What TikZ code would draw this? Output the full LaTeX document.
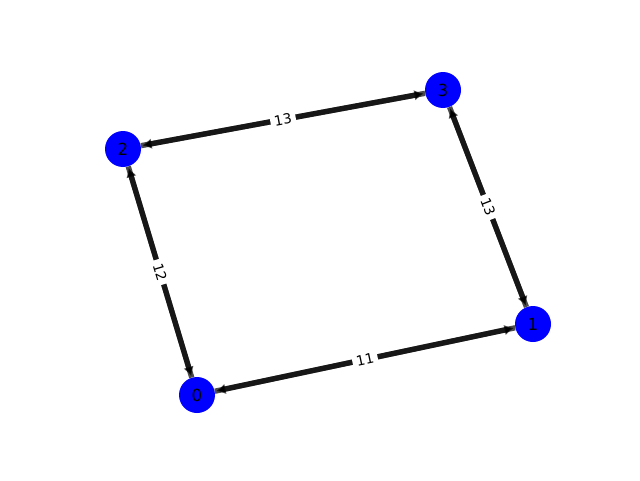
\documentclass[tikz,border=0pt]{standalone}
\usepackage{fontspec}
\setmainfont{DejaVu Sans}
\usetikzlibrary{arrows.meta}
\definecolor{nodeblue}{RGB}{0,0,255}
\tikzset{
  vert/.style={circle, fill=nodeblue, minimum size=27pt, inner sep=0pt, font=\fontsize{12.5}{14}\selectfont, text=black},
  edge/.style={line width=4pt, draw=black, draw opacity=0.7, -{Latex[length=7pt,width=8pt]}, shorten >=1pt},
  wlabel/.style={fill=white, opacity=1, text opacity=1, fill opacity=1, inner xsep=3pt, inner ysep=2pt, font=\fontsize{10.4}{12}\selectfont, sloped, midway}
}
\begin{document}
\begin{tikzpicture}[x=0.75pt, y=0.75pt]
\useasboundingbox (0,0) rectangle (640,480);
\node[vert] (n0) at (197,85) {0};
\node[vert] (n1) at (533,156) {1};
\node[vert] (n2) at (123,331) {2};
\node[vert] (n3) at (443,390) {3};
\draw[edge] (n2) -- (n3);
\draw[edge] (n3) -- (n2) node[wlabel] {13};
\draw[edge] (n0) -- (n1);
\draw[edge] (n1) -- (n0) node[wlabel] {11};
\draw[edge] (n0) -- (n2);
\draw[edge] (n2) -- (n0) node[wlabel] {12};
\draw[edge] (n1) -- (n3);
\draw[edge] (n3) -- (n1) node[wlabel] {13};
\end{tikzpicture}
\end{document}
